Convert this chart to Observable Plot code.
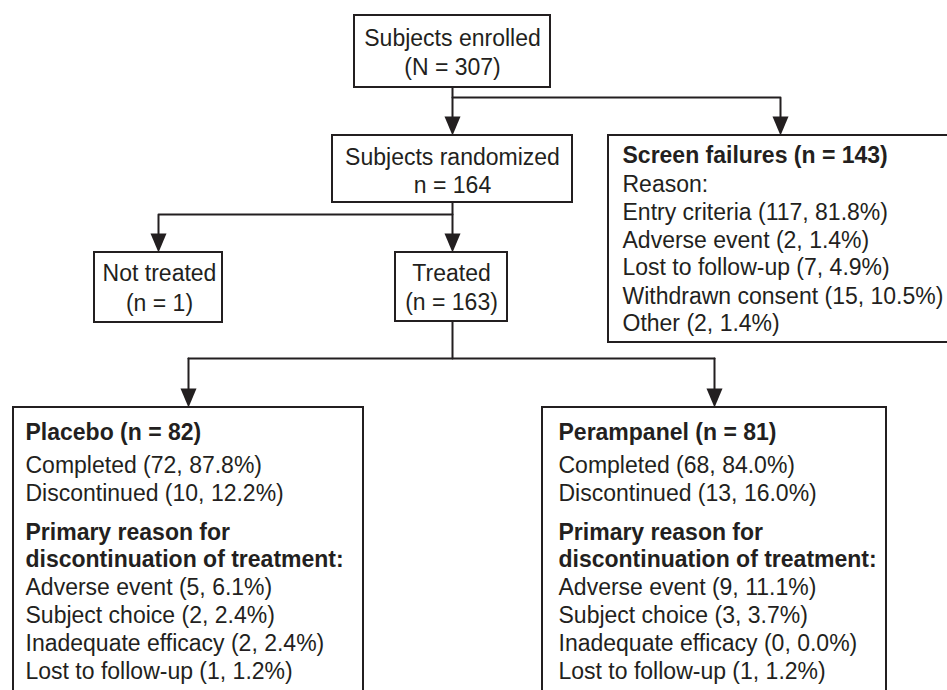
<!DOCTYPE html>
<html><head><meta charset="utf-8">
<script src="https://cdn.jsdelivr.net/npm/d3@7"></script>
<script src="https://cdn.jsdelivr.net/npm/@observablehq/plot@0.6"></script>
<style>body{margin:0;background:#fff} svg{display:block}</style>
</head><body><div id="chart"></div>
<script>
// ---- data ----
const totalEnrolled = 307;
const randomized = 164;
const notTreated = 1;
const treated = 163;
const screenFailures = 143;
const screenReasons = ["Entry criteria", "Adverse event", "Lost to follow-up", "Withdrawn consent", "Other"];
const screenCounts = [117, 2, 7, 15, 2];
const screenPct = [81.8, 1.4, 4.9, 10.5, 1.4];
const arms = ["Placebo", "Perampanel"];
const armN = [82, 81];
const completed = [72, 68];
const completedPct = [87.8, 84.0];
const discontinued = [10, 13];
const discontinuedPct = [12.2, 16.0];
const discReasons = ["Adverse event", "Subject choice", "Inadequate efficacy", "Lost to follow-up"];
const discCounts = [[5, 2, 2, 1], [9, 3, 0, 1]];
const discPct = [[6.1, 2.4, 2.4, 1.2], [11.1, 3.7, 0.0, 1.2]];

// ---- layout ----
const W = 947, H = 690;
const ink = "#231f20";
const fs = 23;
const pct = v => v.toFixed(1) + "%";

const boxes = [
  {x1: 354, x2: 550, y1: 15, y2: 87},   // enrolled
  {x1: 332, x2: 572, y1: 135, y2: 202}, // randomized
  {x1: 608, x2: 952, y1: 135, y2: 342}, // screen failures
  {x1: 94, x2: 222, y1: 252, y2: 322},  // not treated
  {x1: 395, x2: 507, y1: 252, y2: 321}, // treated
  {x1: 13, x2: 363, y1: 407, y2: 700},  // placebo
  {x1: 542, x2: 886, y1: 407, y2: 700}  // perampanel
];

const connectors = [
  [[452, 87], [452, 128]],
  [[452, 97], [780, 97], [780, 128]],
  [[452, 202], [452, 245]],
  [[452, 214], [158, 214], [158, 245]],
  [[452, 321], [452, 358]],
  [[188, 358], [714, 358]],
  [[188, 358], [188, 400]],
  [[714, 358], [714, 400]]
];
const lineData = connectors.flatMap((pts, i) => pts.map(([x, y]) => ({x, y, id: i})));

const arrowTips = [
  {x: 452, y: 135}, {x: 780, y: 135}, {x: 452, y: 252}, {x: 158, y: 252},
  {x: 188, y: 407}, {x: 714, y: 407}
];
const arrowHead = {
  draw(ctx) {
    ctx.moveTo(0, 0);
    ctx.lineTo(-8, -19);
    ctx.lineTo(8, -19);
    ctx.closePath();
  }
};

const texts = [];
const add = (x, y, text, bold = false, anchor = "start") => texts.push({x, y, text, bold, anchor});
add(452, 38, "Subjects enrolled", false, "middle");
add(452, 67, `(N = ${totalEnrolled})`, false, "middle");
add(452, 157, "Subjects randomized", false, "middle");
add(452, 185, `n = ${randomized}`, false, "middle");
add(159, 273, "Not treated", false, "middle");
add(159, 303, `(n = ${notTreated})`, false, "middle");
add(451, 273, "Treated", false, "middle");
add(451, 302, `(n = ${treated})`, false, "middle");
const sfY = [155, 184, 212, 240, 267, 296, 323];
add(622, sfY[0], `Screen failures (n = ${screenFailures})`, true);
add(622, sfY[1], "Reason:");
screenReasons.forEach((r, i) => add(622, sfY[i + 2], `${r} (${screenCounts[i]}, ${pct(screenPct[i])})`));
const armX = [25, 558];
const armY = [432, 465, 493, 532, 559, 587, 615, 643, 671];
arms.forEach((a, k) => {
  const x = armX[k];
  add(x, armY[0], `${a} (n = ${armN[k]})`, true);
  add(x, armY[1], `Completed (${completed[k]}, ${pct(completedPct[k])})`);
  add(x, armY[2], `Discontinued (${discontinued[k]}, ${pct(discontinuedPct[k])})`);
  add(x, armY[3], "Primary reason for", true);
  add(x, armY[4], "discontinuation of treatment:", true);
  discReasons.forEach((r, i) => add(x, armY[5 + i], `${r} (${discCounts[k][i]}, ${pct(discPct[k][i])})`));
});

const textMark = (filter, opts) => Plot.text(texts.filter(filter), {
  x: "x", y: "y", text: "text", fill: ink, fontSize: fs, lineAnchor: "middle", ...opts
});

const chart = Plot.plot({
  width: W, height: H,
  margin: 0,
  x: {domain: [0, W], range: [0, W], axis: null},
  y: {domain: [0, H], range: [0, H], axis: null},
  style: {fontFamily: "'Liberation Sans', Arial, sans-serif", background: "#fff"},
  marks: [
    Plot.rect(boxes, {x1: "x1", x2: "x2", y1: "y1", y2: "y2", fill: "none", stroke: ink, strokeWidth: 2, clip: true}),
    Plot.line(lineData, {x: "x", y: "y", z: "id", stroke: ink, strokeWidth: 2, curve: "linear"}),
    Plot.dot(arrowTips, {x: "x", y: "y", symbol: arrowHead, fill: ink, stroke: "none", r: 5}),
    textMark(d => !d.bold && d.anchor === "middle", {textAnchor: "middle"}),
    textMark(d => !d.bold && d.anchor === "start", {textAnchor: "start"}),
    textMark(d => d.bold, {textAnchor: "start", fontWeight: "bold"})
  ]
});
document.getElementById("chart").appendChild(chart);
</script>
</body></html>
